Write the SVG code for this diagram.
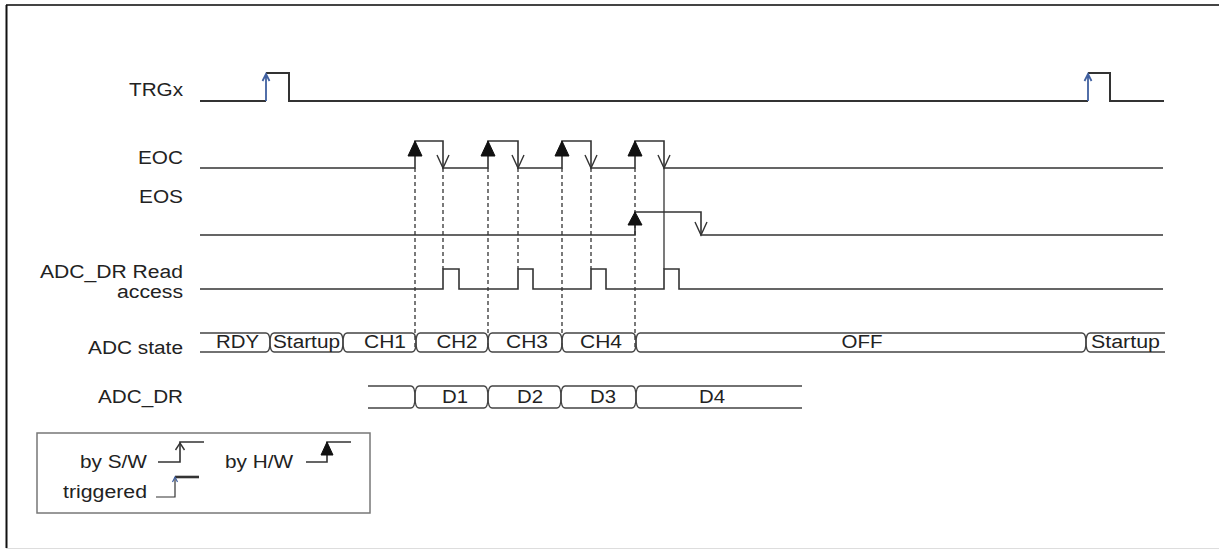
<svg xmlns="http://www.w3.org/2000/svg" width="1219" height="551" viewBox="0 0 1219 551">
<style>
.t{font-family:"Liberation Sans",Arial,sans-serif;font-size:18px;fill:#222}
.e{text-anchor:end}
.m{text-anchor:middle}
.sig{fill:none;stroke:#333;stroke-width:1.6}
.bus{fill:none;stroke:#444;stroke-width:1.4}
.dash{fill:none;stroke:#333;stroke-width:1.3;stroke-dasharray:4 3}
.solid{fill:none;stroke:#333;stroke-width:1.3}
.tri{fill:#111;stroke:#111;stroke-width:1}
.chev{fill:none;stroke:#333;stroke-width:1.4}
.blue{fill:none;stroke:#4060a0;stroke-width:1.8}
</style>
<rect x="0" y="0" width="1219" height="551" fill="#fff"/>
<g id="frame">
<path d="M6,5 H1219" stroke="#444" stroke-width="2" fill="none"/>
<path d="M6.5,5 V548" stroke="#111" stroke-width="2" fill="none"/>
<path d="M6,548.5 H1219" stroke="#ddd" stroke-width="1" fill="none"/>
</g>
<g id="connectors">
<path class="dash" d="M415,168 V350 M488,168 V350 M562,168 V350 M635,168 V350"/>
<path class="dash" d="M443,168 V269 M518,168 V269 M591,168 V269"/>
<path class="solid" d="M664,168 V269"/>
</g>
<g id="TRGx">
<text class="t e" x="183" y="96" textLength="54" lengthAdjust="spacingAndGlyphs">TRGx</text>
<path class="sig" style="stroke-width:2" d="M200,101 H266 M266,73 H289 V101 H1088 M1088,73 H1110 V101 H1164"/>
<path class="blue" d="M266,101 V74 M262.5,81 L266,74 L269.5,81 M1088,101 V74 M1084.5,81 L1088,74 L1091.5,81"/>
</g>
<g id="EOC">
<text class="t e" x="183" y="164" textLength="45" lengthAdjust="spacingAndGlyphs">EOC</text>
<path class="sig" d="M200,168 H415 V141 H443 V168 H488 V141 H518 V168 H562 V141 H591 V168 H635 V141 H664 V168 H1163"/>
<polygon class="tri" points="415,141 408,156 422,156"/>
<polygon class="tri" points="488,141 481,156 495,156"/>
<polygon class="tri" points="562,141 555,156 569,156"/>
<polygon class="tri" points="635,141 628,156 642,156"/>
<path class="chev" d="M437,155 L443,168 L449,155 M512,155 L518,168 L524,155 M585,155 L591,168 L597,155 M658,155 L664,168 L670,155"/>
</g>
<g id="EOS">
<text class="t e" x="183" y="203" textLength="44" lengthAdjust="spacingAndGlyphs">EOS</text>
<path class="sig" d="M200,235 H635 V212 H701 V235 H1163"/>
<polygon class="tri" points="635,212 628,225 642,225"/>
<path class="chev" d="M695,222 L701,235 L707,222"/>
</g>
<g id="ADC_DR_Read">
<text class="t e" x="183" y="278" textLength="143" lengthAdjust="spacingAndGlyphs">ADC_DR Read</text>
<text class="t e" x="183" y="298" textLength="66" lengthAdjust="spacingAndGlyphs">access</text>
<path class="sig" d="M200,289 H443 V269 H459 V289 H518 V269 H533 V289 H591 V269 H606 V289 H664 V269 H679 V289 H1163"/>
</g>
<g id="ADC_state">
<text class="t e" x="183" y="354" textLength="95" lengthAdjust="spacingAndGlyphs">ADC state</text>
<path class="bus" d="M200,333 H266 Q270,333 270,342.5 Q270,352 266,352 H200"/>
<path class="bus" d="M274,333 H339 Q343,333 343,342.5 Q343,352 339,352 H274 Q270,352 270,342.5 Q270,333 274,333 Z"/>
<path class="bus" d="M347,333 H412 Q416,333 416,342.5 Q416,352 412,352 H347 Q343,352 343,342.5 Q343,333 347,333 Z"/>
<path class="bus" d="M420,333 H484 Q488,333 488,342.5 Q488,352 484,352 H420 Q416,352 416,342.5 Q416,333 420,333 Z"/>
<path class="bus" d="M492,333 H558 Q562,333 562,342.5 Q562,352 558,352 H492 Q488,352 488,342.5 Q488,333 492,333 Z"/>
<path class="bus" d="M566,333 H632 Q636,333 636,342.5 Q636,352 632,352 H566 Q562,352 562,342.5 Q562,333 566,333 Z"/>
<path class="bus" d="M640,333 H1082 Q1086,333 1086,342.5 Q1086,352 1082,352 H640 Q636,352 636,342.5 Q636,333 640,333 Z"/>
<path class="bus" d="M1165,333 H1090 Q1086,333 1086,342.5 Q1086,352 1090,352 H1165"/>
<text class="t m" x="237.5" y="348" textLength="43" lengthAdjust="spacingAndGlyphs">RDY</text>
<text class="t m" x="306.5" y="348" textLength="67" lengthAdjust="spacingAndGlyphs">Startup</text>
<text class="t m" x="385" y="348" textLength="42" lengthAdjust="spacingAndGlyphs">CH1</text>
<text class="t m" x="457" y="348" textLength="41" lengthAdjust="spacingAndGlyphs">CH2</text>
<text class="t m" x="527" y="348" textLength="42" lengthAdjust="spacingAndGlyphs">CH3</text>
<text class="t m" x="601" y="348" textLength="42" lengthAdjust="spacingAndGlyphs">CH4</text>
<text class="t m" x="862" y="348" textLength="41" lengthAdjust="spacingAndGlyphs">OFF</text>
<text class="t m" x="1125.5" y="348" textLength="69" lengthAdjust="spacingAndGlyphs">Startup</text>
</g>
<g id="ADC_DR">
<text class="t e" x="183" y="403" textLength="85" lengthAdjust="spacingAndGlyphs">ADC_DR</text>
<path class="bus" d="M368,386 H411 Q415,386 415,397 Q415,408 411,408 H368"/>
<path class="bus" d="M419,386 H484 Q488,386 488,397 Q488,408 484,408 H419 Q415,408 415,397 Q415,386 419,386 Z"/>
<path class="bus" d="M492,386 H557 Q561,386 561,397 Q561,408 557,408 H492 Q488,408 488,397 Q488,386 492,386 Z"/>
<path class="bus" d="M565,386 H632 Q636,386 636,397 Q636,408 632,408 H565 Q561,408 561,397 Q561,386 565,386 Z"/>
<path class="bus" d="M802,386 H640 Q636,386 636,397 Q636,408 640,408 H802"/>
<text class="t m" x="455" y="403" textLength="26" lengthAdjust="spacingAndGlyphs">D1</text>
<text class="t m" x="530" y="403" textLength="26" lengthAdjust="spacingAndGlyphs">D2</text>
<text class="t m" x="603" y="403" textLength="26" lengthAdjust="spacingAndGlyphs">D3</text>
<text class="t m" x="712" y="403" textLength="26" lengthAdjust="spacingAndGlyphs">D4</text>
</g>
<g id="legend">
<rect x="37" y="433" width="333" height="80" fill="none" stroke="#777" stroke-width="1.5"/>
<text class="t e" x="147" y="468" textLength="67" lengthAdjust="spacingAndGlyphs">by S/W</text>
<path class="sig" d="M158,462 H180 V442 H204"/>
<path class="chev" d="M175.5,450 L180,443 L184.5,450"/>
<text class="t e" x="293" y="468" textLength="68" lengthAdjust="spacingAndGlyphs">by H/W</text>
<path class="sig" d="M306,462 H327 V442 H351"/>
<polygon class="tri" points="327,442 321,455 333,455"/>
<text class="t e" x="147" y="498" textLength="84" lengthAdjust="spacingAndGlyphs">triggered</text>
<path class="sig" style="stroke-width:1.2" d="M156,497 H175 V477"/>
<path class="sig" style="stroke-width:2.6" d="M175,477 H199"/>
<path class="blue" style="stroke-width:1.2" d="M172.5,482 L175,477 L177.5,482"/>
</g>
</svg>
